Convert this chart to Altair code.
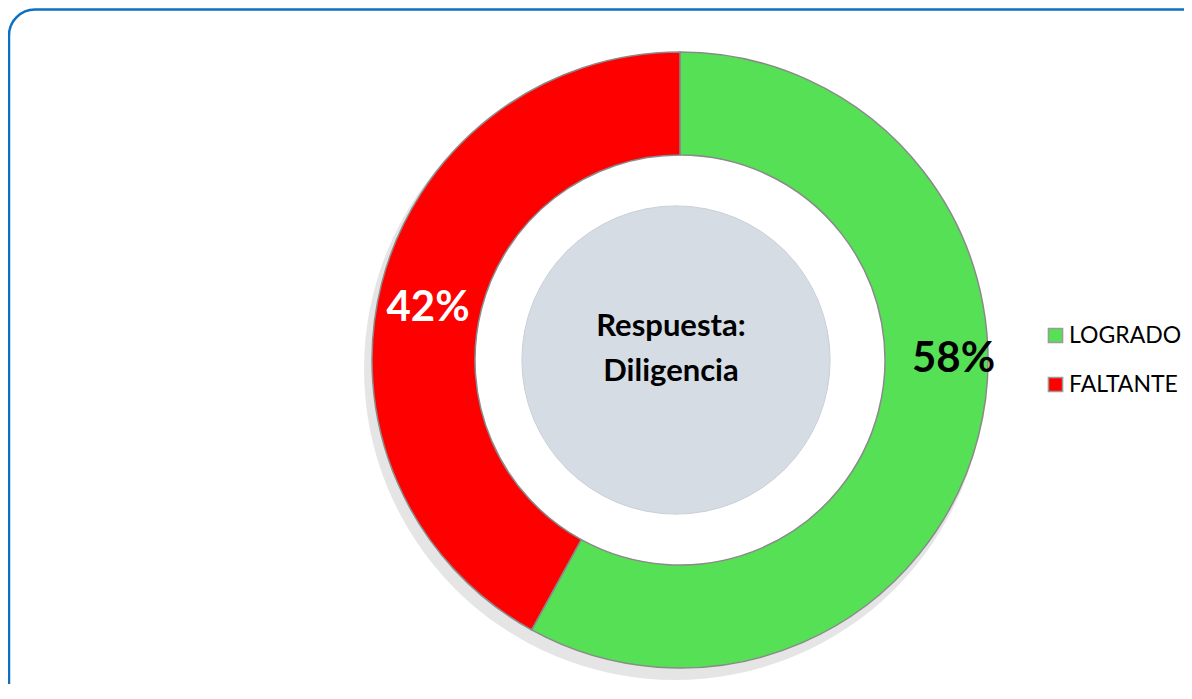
import altair as alt
import pandas as pd

categories = ["LOGRADO", "FALTANTE"]
values = [58, 42]
labels = ["58%", "42%"]
orden = [0, 1]
colors = ["#55E055", "#FF0000"]
center_title = "Respuesta:\nDiligencia"

df = pd.DataFrame({"categoria": categories, "valor": values, "etiqueta": labels, "orden": orden})
df_title = pd.DataFrame({"titulo": [center_title]})

CX, CY = 672, 352
R_OUT, R_IN = 308, 205

ring = alt.Chart(df).mark_arc(
    outerRadius=R_OUT, innerRadius=R_IN, stroke="#8a8a8a", strokeWidth=1.5
).encode(
    theta=alt.Theta("valor:Q", stack=True),
    order=alt.Order("orden:Q"),
    color=alt.Color(
        "categoria:N",
        scale=alt.Scale(domain=categories, range=colors),
        legend=alt.Legend(
            title=None, orient="none", legendX=1036, legendY=316,
            symbolType="square", symbolSize=200, symbolStrokeColor="#9a9a9a",
            symbolStrokeWidth=1.5, symbolOpacity=1,
            labelFont="Lato", labelFontSize=23, labelColor="#000000",
            labelOffset=2, rowPadding=25,
        ),
    ),
    x=alt.value(CX), y=alt.value(CY),
)

shadow = alt.Chart(df_title).mark_arc(
    outerRadius=R_OUT + 3, innerRadius=R_OUT - 40, theta=0, theta2=6.2832,
    color="#000000", opacity=0.10
).encode(x=alt.value(CX - 5), y=alt.value(CY + 9))

lab_base = alt.Chart(df).transform_window(
    cum="sum(valor)", sort=[alt.SortField("orden")], frame=[None, 0]
).transform_joinaggregate(
    total="sum(valor)"
).transform_calculate(
    mid="(datum.cum - datum.valor / 2) / datum.total * 2 * PI"
)

lab_green = lab_base.transform_filter(alt.datum.categoria == "LOGRADO").mark_text(
    radius=270, dx=12, dy=-68, font="Lato", fontWeight="bold", fontSize=42,
    color="#000000", align="center", baseline="middle"
).encode(theta=alt.Theta("mid:Q", scale=None), text="etiqueta:N",
         x=alt.value(CX), y=alt.value(CY))

lab_red = lab_base.transform_filter(alt.datum.categoria == "FALTANTE").mark_text(
    radius=257, dx=-3, dy=12, font="Lato", fontWeight="bold", fontSize=42,
    color="#FFFFFF", align="center", baseline="middle"
).encode(theta=alt.Theta("mid:Q", scale=None), text="etiqueta:N",
         x=alt.value(CX), y=alt.value(CY))

disk = alt.Chart(df_title).mark_circle(
    size=95000, color="#D6DCE4", opacity=1, stroke="#C9D0DA", strokeWidth=1
).encode(x=alt.value(CX - 4), y=alt.value(CY))

title_txt = alt.Chart(df_title).mark_text(
    font="Lato", fontWeight="bold", fontSize=31, color="#000000",
    align="center", baseline="middle", lineBreak="\n", lineHeight=45
).encode(text="titulo:N", x=alt.value(CX - 9), y=alt.value(CY - 33))

frame = alt.Chart(df_title).mark_rect(
    fill=None, filled=False, stroke="#0E70C0", strokeWidth=2.5, cornerRadius=26
).encode(x=alt.value(1), y=alt.value(1.5), x2=alt.value(1210), y2=alt.value(730))

chart = alt.layer(frame, shadow, ring, disk, title_txt, lab_green, lab_red).properties(
    width=1176, height=676,
    autosize=alt.AutoSizeParams(type="none"),
    padding=0,
).configure_view(
    stroke=None, fill="#FFFFFF"
)

chart.save("out.html", embed_options={"renderer": "svg", "actions": False})
